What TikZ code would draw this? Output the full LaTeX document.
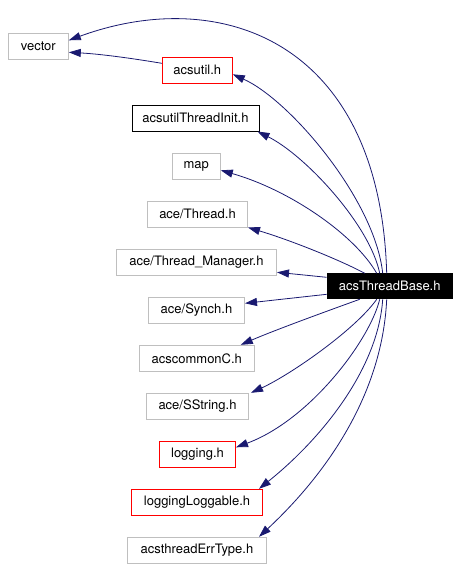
\documentclass[tikz,border=0pt]{standalone}
\usepackage{fontspec}
\setmainfont{TeX Gyre Heros}
\usetikzlibrary{arrows.meta}
\definecolor{edgeblue}{HTML}{191970}
\definecolor{boxgrey}{HTML}{BFBFBF}
\definecolor{boxred}{HTML}{FF0000}
\tikzset{
  hdr/.style={draw, line width=1pt, minimum height=26pt, inner sep=0pt, font=\fontsize{13pt}{15pt}\selectfont, text=black},
  greyhdr/.style={hdr, draw=boxgrey},
  redhdr/.style={hdr, draw=boxred},
  blackhdr/.style={hdr, draw=black},
  mainhdr/.style={hdr, draw=black, fill=black, text=white, minimum height=25pt},
  dep/.style={draw=edgeblue, line width=0.8pt, -{Triangle[length=12pt,width=8pt]}, edgeblue}
}
\begin{document}
\begin{tikzpicture}[x=1pt,y=-1pt]
\useasboundingbox (0,0) rectangle (459,568);
\node[greyhdr, minimum width=60pt]  (vector)   at (38.3,46.3)  {vector};
\node[redhdr, minimum width=70pt]   (acsutil)  at (197.3,70.3) {acsutil.h};
\node[blackhdr, minimum width=127pt](ati)      at (195.5,118)  {acsutilThreadInit.h};
\node[greyhdr, minimum width=48pt]  (map)      at (196.3,166.3){map};
\node[greyhdr, minimum width=100pt] (thread)   at (197.5,214)  {ace/Thread.h};
\node[greyhdr, minimum width=160pt] (tm)       at (196.5,262.3){ace/Thread\_Manager.h};
\node[mainhdr, minimum width=125pt] (base)     at (389.7,286.3){acsThreadBase.h};
\node[greyhdr, minimum width=96pt]  (synch)    at (196.5,310.3){ace/Synch.h};
\node[greyhdr, minimum width=115pt] (common)   at (196.8,358.3){acscommonC.h};
\node[greyhdr, minimum width=102pt] (sstring)  at (197.5,406.3){ace/SString.h};
\node[redhdr, minimum width=76pt]   (logging)  at (197.5,454.3){logging.h};
\node[redhdr, minimum width=131pt]  (loggable) at (197,502.3)  {loggingLoggable.h};
\node[greyhdr, minimum width=139pt] (errtype)  at (197,550.3)  {acsthreadErrType.h};

\draw[dep] ([yshift=7pt]acsutil.west) .. controls (130,58) and (100,54) .. ([yshift=-6pt]vector.east);
\draw[dep] ([xshift=-3pt]base.north) .. controls (380,40) and (220,-15) .. ([yshift=6pt]vector.east);
\draw[dep] ([xshift=-7pt]base.north) .. controls (375,200) and (290,100) .. ([yshift=-4pt]acsutil.east);
\draw[dep] ([xshift=-10pt]base.north) .. controls (370,225) and (305,155) .. ([xshift=-2pt]ati.south east);
\draw[dep] ([xshift=-13pt]base.north) .. controls (355,235) and (290,190) .. ([yshift=-4pt]map.east);
\draw[dep] ([xshift=-25pt]base.north) .. controls (340,260) and (290,240) .. (thread.south east);
\draw[dep] ([yshift=9pt]base.west) -- ([yshift=-10pt]tm.east);
\draw[dep] ([yshift=-8pt]base.west) -- ([yshift=7pt]synch.east);
\draw[dep] ([xshift=-30pt]base.south) .. controls (330,310) and (275,330) .. ([xshift=-14pt]common.north east);
\draw[dep] ([xshift=-13pt]base.south) .. controls (355,330) and (290,375) .. ([xshift=2pt]sstring.north east);
\draw[dep] ([xshift=-10pt]base.south) .. controls (370,340) and (310,420) .. ([yshift=7pt]logging.east);
\draw[dep] ([xshift=-7pt]base.south) .. controls (378,370) and (320,440) .. ([xshift=-4pt]loggable.north east);
\draw[dep] ([xshift=-3pt]base.south) .. controls (382,400) and (320,480) .. ([xshift=-8pt]errtype.north east);
\end{tikzpicture}
\end{document}
